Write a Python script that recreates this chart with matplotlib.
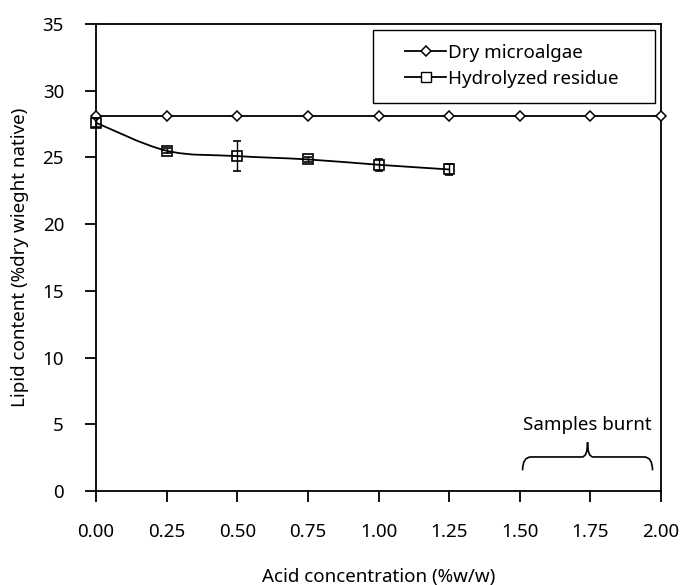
import matplotlib
matplotlib.use("Agg")
import matplotlib.pyplot as plt
from matplotlib.path import Path
from matplotlib.patches import PathPatch, Rectangle
import numpy as np

# Datos
acido = [0.00, 0.25, 0.50, 0.75, 1.00, 1.25, 1.50, 1.75, 2.00]
seco = [28.1, 28.1, 28.1, 28.1, 28.1, 28.1, 28.1, 28.1, 28.1]
acido_res = [0.00, 0.25, 0.50, 0.75, 1.00, 1.25]
residuo = [27.6, 25.5, 25.1, 24.85, 24.45, 24.1]
residuo_err = [0.35, 0.2, 1.1, 0.2, 0.45, 0.4]
xticks = [0.00, 0.25, 0.50, 0.75, 1.00, 1.25, 1.50, 1.75, 2.00]
yticks = [0, 5, 10, 15, 20, 25, 30, 35]

plt.rcParams["font.family"] = ["Noto Sans", "DejaVu Sans"]
plt.rcParams["font.weight"] = "light"
fs = 13.5

fig = plt.figure(figsize=(6.83, 5.85), dpi=100)
ax = fig.add_axes([96 / 683, 94 / 585, 565 / 683, 467 / 585])

# Linea suavizada (estilo Excel) a traves de los puntos del residuo
def suavizado(xs, ys):
    pts = np.column_stack([xs, ys])
    n = len(pts)
    verts = [pts[0]]
    codes = [Path.MOVETO]
    for i in range(n - 1):
        p0 = pts[i - 1] if i > 0 else pts[i]
        p1 = pts[i]
        p2 = pts[i + 1]
        p3 = pts[i + 2] if i + 2 < n else pts[i + 1]
        c1 = p1 + (p2 - p0) / 6
        c2 = p2 - (p3 - p1) / 6
        verts += [c1, c2, p2]
        codes += [Path.CURVE4] * 3
    return Path(verts, codes)

ax.add_patch(PathPatch(suavizado(acido_res, residuo), fill=False,
                       edgecolor="black", lw=1.3, zorder=3))

ax.plot(acido, seco, color="black", lw=1.3, marker="D", ms=5.5,
        mfc="white", mec="black", mew=1.1, clip_on=False, zorder=4,
        label="Dry microalgae")
ax.errorbar(acido_res, residuo, yerr=residuo_err, fmt="s", ms=7.5,
            mfc="none", mec="black", mew=1.2, ecolor="black",
            elinewidth=1.0, capsize=3, capthick=1.0, clip_on=False, zorder=5)
# entrada de leyenda con linea
ax.plot([], [], color="black", lw=1.3, marker="s", ms=6.5, mfc="white",
        mec="black", mew=1.0, label="Hydrolyzed residue")

ax.set_xlim(0, 2)
ax.set_ylim(0, 35)
ax.set_xticks(xticks)
ax.set_xticklabels(["%.2f" % v for v in xticks], fontsize=fs)
ax.set_yticks(yticks)
ax.set_yticklabels([str(v) for v in yticks], fontsize=fs)
ax.tick_params(direction="out", length=8, width=1.3, pad=15, color="black")
for s in ax.spines.values():
    s.set_linewidth(1.3)
    s.set_color("black")

ax.set_xlabel("Acid concentration (%w/w)", fontsize=fs)
ax.xaxis.set_label_coords(0.5, -0.165)
fig.text(20 / 683, 0.56, "Lipid content (%dry wieght native)", rotation=90,
         ha="center", va="center", fontsize=fs)

# Marco de la leyenda
ax.add_patch(Rectangle((0.4903, 0.8308), 0.4991, 0.1563, transform=ax.transAxes,
                       facecolor="white", edgecolor="black", lw=1.0, zorder=9))
leg = ax.legend(loc="upper left", bbox_to_anchor=(0.547, 0.958), fontsize=fs,
                frameon=False, handlelength=2.2, handletextpad=0.1, borderpad=0,
                labelspacing=0.45, borderaxespad=0)
leg.set_zorder(10)

# Llave de "Samples burnt"
x0, x1, xm = 1.51, 1.97, 1.74
yb, ye, yt = 2.55, 1.55, 3.65
llave = Path(
    [(x0, ye), (x0, yb), (x0 + 0.03, yb), (xm - 0.02, yb), (xm, yb), (xm, yt),
     (xm, yb), (xm + 0.02, yb), (x1 - 0.03, yb), (x1, yb), (x1, ye)],
    [Path.MOVETO, Path.CURVE3, Path.CURVE3, Path.LINETO, Path.CURVE3, Path.CURVE3,
     Path.CURVE3, Path.CURVE3, Path.LINETO, Path.CURVE3, Path.CURVE3])
ax.add_patch(PathPatch(llave, fill=False, edgecolor="black", lw=1.2))
ax.text(xm, 4.95, "Samples burnt", ha="center", va="center", fontsize=fs)

fig.savefig("out.png", dpi=100)
